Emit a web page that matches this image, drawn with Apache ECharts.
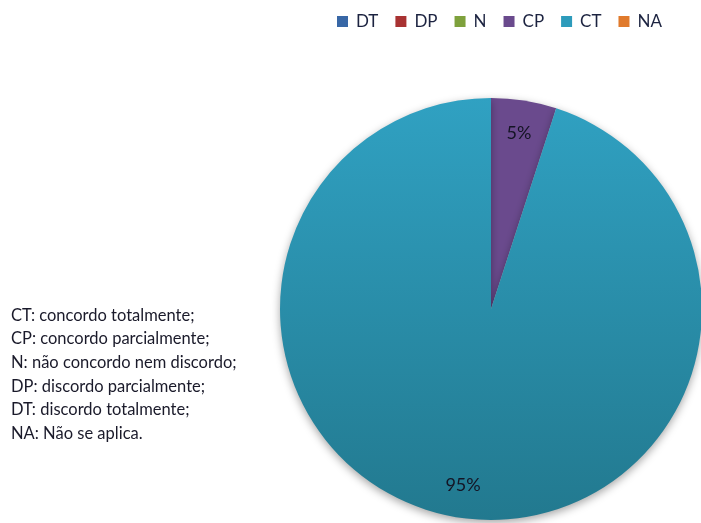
<!DOCTYPE html>
<html>
<head>
<meta charset="utf-8">
<script src="https://cdn.jsdelivr.net/npm/echarts@6/dist/echarts.min.js"></script>
<style>
  html, body { margin: 0; padding: 0; background: #fff; }
  #chart { width: 701px; height: 523px; }
</style>
</head>
<body>
<div id="chart"></div>
<script>
// respostas
const categories = ['DT', 'DP', 'N', 'CP', 'CT', 'NA'];
const percents = [0, 0, 0, 5, 95, 0];
const colors = ['#3867a6', '#a83232', '#7ea13c', '#6a4a8d', '#2d9bbb', '#e07a2c'];
const notes = [
  'CT: concordo totalmente;',
  'CP: concordo parcialmente;',
  'N: não concordo nem discordo;',
  'DP: discordo parcialmente;',
  'DT: discordo totalmente;',
  'NA: Não se aplica.'
];

const fontFam = 'Lato, "Open Sans", sans-serif';

let pieData = categories.map(function (c, i) {
  let item = { name: c, value: percents[i], itemStyle: { color: colors[i] } };
  if (c === 'CT') {
    item.itemStyle.color = new echarts.graphic.LinearGradient(0, 0, 0, 1, [
      { offset: 0, color: '#30a1c2' },
      { offset: 1, color: '#22798f' }
    ]);
  }
  return item;
});

// anel transparente so para posicionar os rotulos perto da borda
let labelData = categories.map(function (c, i) {
  return {
    name: c,
    value: percents[i],
    label: { show: percents[i] > 0 }
  };
});

let chart = echarts.init(document.getElementById('chart'), null, { renderer: 'canvas' });

chart.setOption({
  animation: false,
  legend: {
    data: categories.map(function (c, i) {
      return { name: c, itemStyle: { color: colors[i] } };
    }),
    left: 332,
    top: 8,
    itemWidth: 11,
    itemHeight: 11,
    itemGap: 17,
    icon: 'rect',
    selectedMode: false,
    textStyle: { fontFamily: fontFam, fontSize: 17, color: '#1c2340', padding: [0, 0, 0, 3] }
  },
  graphic: notes.map(function (t, i) {
    return {
      type: 'text',
      left: 11,
      top: 307 + i * 23.6,
      style: { text: t, font: '16.5px ' + fontFam, fill: '#1a1a2a' }
    };
  }),
  series: [
    {
      type: 'pie',
      center: [491, 309],
      radius: 211,
      startAngle: 90,
      clockwise: true,
      minAngle: 0,
      silent: true,
      label: { show: false },
      labelLine: { show: false },
      itemStyle: {
        shadowBlur: 8,
        shadowOffsetY: 3,
        shadowColor: 'rgba(0,0,0,0.35)'
      },
      data: pieData
    },
    {
      type: 'pie',
      center: [491, 309],
      radius: [140, 211],
      startAngle: 90,
      clockwise: true,
      silent: true,
      itemStyle: { color: 'rgba(0,0,0,0)' },
      label: {
        position: 'inside',
        formatter: '{c}%',
        fontFamily: fontFam,
        fontSize: 18,
        color: '#141424'
      },
      labelLine: { show: false },
      data: labelData
    }
  ]
});
</script>
</body>
</html>
